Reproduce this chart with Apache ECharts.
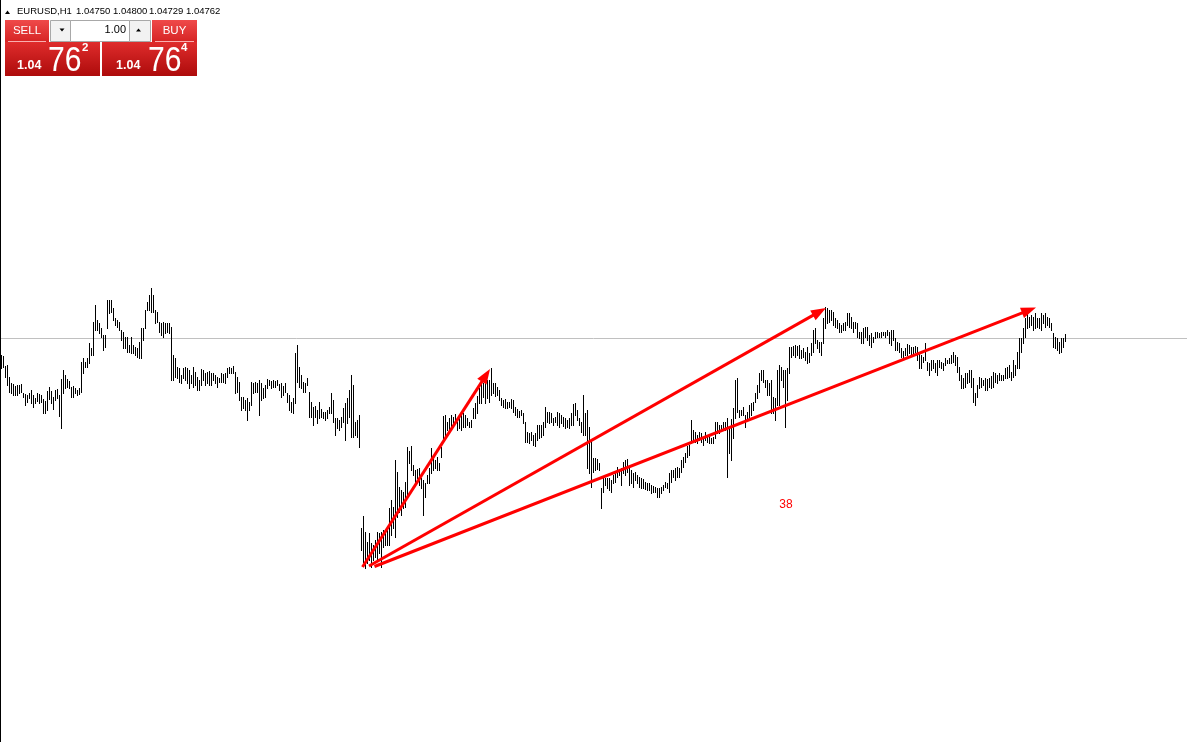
<!DOCTYPE html>
<html><head><meta charset="utf-8">
<script src="https://cdn.jsdelivr.net/npm/echarts@6/dist/echarts.min.js"></script>
<style>html,body{margin:0;padding:0;background:#fff;overflow:hidden}#chart{width:1187px;height:742px}</style>
</head><body><div id="chart"></div>
<script>
// ---- data (prices in pips: value/10000 = price) ----
const symbolName = 'EURUSD,H1';
const lastOHLC = ['1.04750', '1.04800', '1.04729', '1.04762'];
const bidPrice = 1.04762;
const lotSize = '1.00';
const bidParts = ['1.04', '76', '2'];
const askParts = ['1.04', '76', '4'];

const highsPips = [
10459,10458,10448,10449,10437,10431,10430,10428,10429,10429,
10430,10421,10420,10419,10421,10424,10419,10416,10421,10420,
10419,10415,10413,10423,10427,10423,10417,10424,10425,10419,
10435,10444,10439,10435,10433,10427,10428,10426,10424,10426,
10452,10456,10452,10456,10471,10466,10492,10509,10494,10491,
10486,10479,10479,10514,10514,10514,10506,10496,10494,10492,
10484,10482,10477,10477,10469,10477,10469,10467,10466,10472,
10486,10486,10504,10512,10519,10526,10519,10504,10502,10492,
10491,10492,10491,10491,10491,10487,10459,10456,10447,10446,
10439,10446,10447,10446,10444,10439,10447,10442,10437,10434,
10445,10444,10441,10442,10443,10441,10441,10439,10437,10436,
10441,10440,10441,10446,10447,10446,10448,10442,10437,10432,
10417,10417,10414,10416,10412,10432,10431,10432,10431,10434,
10431,10426,10429,10435,10434,10433,10434,10433,10434,10430,
10431,10428,10431,10421,10419,10412,10416,10461,10469,10447,
10439,10432,10431,10436,10422,10412,10407,10408,10404,10412,
10405,10402,10402,10404,10407,10421,10414,10396,10396,10394,
10397,10406,10411,10416,10424,10439,10429,10392,10394,10399,
10286,10298,10282,10272,10281,10271,10269,10274,10282,10281,
10282,10284,10282,10287,10306,10314,10307,10354,10342,10327,
10324,10322,10332,10367,10363,10368,10349,10344,10345,10346,
10336,10334,10331,10339,10346,10366,10356,10354,10357,10351,
10367,10398,10399,10392,10396,10399,10397,10400,10392,10396,
10399,10401,10399,10396,10392,10394,10406,10411,10418,10426,
10434,10431,10433,10434,10434,10446,10431,10431,10427,10424,
10416,10414,10415,10412,10412,10415,10414,10407,10405,10403,
10404,10401,10392,10382,10381,10382,10379,10381,10389,10389,
10389,10392,10407,10402,10402,10401,10396,10397,10402,10401,
10399,10397,10396,10394,10396,10401,10410,10411,10404,10396,
10392,10419,10401,10404,10387,10374,10356,10356,10355,10351,
10326,10337,10336,10336,10336,10334,10339,10342,10347,10344,
10346,10352,10354,10355,10346,10344,10341,10342,10339,10337,
10336,10335,10332,10331,10331,10329,10328,10327,10326,10326,
10327,10329,10332,10331,10341,10344,10344,10346,10347,10346,
10354,10357,10361,10368,10369,10394,10384,10382,10379,10382,
10381,10377,10382,10379,10378,10376,10377,10392,10392,10389,
10389,10392,10392,10396,10387,10395,10406,10434,10436,10404,
10404,10407,10399,10402,10409,10411,10412,10421,10429,10441,
10444,10444,10434,10434,10431,10434,10417,10416,10444,10449,
10447,10444,10444,10446,10467,10467,10468,10469,10468,10469,
10464,10466,10462,10467,10461,10471,10484,10486,10474,10472,
10472,10496,10507,10506,10504,10504,10502,10496,10494,10491,
10489,10491,10492,10501,10501,10497,10492,10492,10491,10482,
10482,10486,10487,10487,10479,10481,10477,10482,10482,10481,
10482,10482,10482,10484,10482,10484,10484,10476,10472,10471,
10466,10463,10466,10470,10469,10467,10467,10468,10467,10462,
10459,10457,10471,10452,10451,10454,10454,10451,10454,10454,
10452,10451,10456,10454,10456,10459,10462,10459,10457,10447,
10439,10436,10441,10441,10444,10444,10436,10421,10429,10437,
10436,10434,10436,10435,10436,10438,10442,10441,10439,10441,
10439,10439,10446,10447,10449,10442,10454,10449,10462,10476,
10476,10486,10496,10501,10497,10499,10497,10501,10496,10496,
10501,10499,10501,10497,10496,10491,10481,10477,10476,10472,
10476,10476,10480
];
const lowsPips = [
10446,10447,10437,10429,10422,10421,10419,10419,10419,10421,
10422,10417,10409,10412,10416,10411,10407,10411,10413,10411,
10412,10401,10401,10404,10415,10411,10405,10414,10416,10398,
10386,10421,10426,10427,10426,10417,10417,10421,10419,10420,
10422,10441,10447,10447,10451,10459,10459,10484,10484,10481,
10477,10464,10467,10486,10501,10502,10494,10489,10487,10484,
10474,10466,10466,10462,10462,10461,10461,10459,10457,10456,
10456,10474,10486,10504,10504,10502,10502,10491,10492,10482,
10479,10477,10481,10482,10481,10434,10434,10437,10436,10432,
10431,10436,10434,10431,10426,10431,10427,10429,10424,10424,
10429,10434,10429,10431,10429,10429,10434,10431,10427,10432,
10432,10432,10431,10437,10441,10441,10441,10421,10422,10414,
10404,10406,10404,10394,10404,10409,10421,10422,10422,10399,
10414,10416,10417,10426,10429,10426,10427,10427,10429,10424,
10417,10419,10422,10412,10404,10402,10401,10411,10432,10427,
10426,10422,10422,10429,10397,10397,10389,10397,10391,10396,
10397,10396,10394,10396,10401,10401,10392,10379,10386,10384,
10387,10392,10374,10391,10397,10377,10377,10379,10377,10367,
10264,10252,10246,10251,10254,10247,10254,10257,10254,10261,
10247,10267,10269,10269,10269,10279,10286,10277,10297,10302,
10299,10306,10307,10317,10351,10344,10339,10331,10336,10329,
10326,10299,10317,10331,10331,10341,10344,10346,10344,10344,
10357,10372,10379,10384,10382,10388,10387,10391,10384,10386,
10384,10387,10387,10389,10387,10387,10396,10396,10401,10411,
10411,10417,10411,10416,10412,10419,10421,10418,10419,10414,
10409,10407,10406,10406,10407,10406,10402,10399,10397,10397,
10399,10391,10372,10372,10371,10374,10369,10368,10374,10376,
10377,10379,10387,10392,10391,10392,10389,10392,10389,10387,
10391,10388,10386,10387,10386,10389,10389,10399,10394,10389,
10382,10379,10379,10346,10341,10327,10342,10344,10345,10344,
10306,10322,10329,10326,10324,10322,10331,10332,10337,10339,
10329,10341,10339,10342,10329,10331,10327,10334,10331,10327,
10326,10326,10325,10324,10324,10321,10322,10322,10317,10317,
10321,10324,10327,10326,10322,10332,10337,10334,10337,10337,
10342,10347,10352,10357,10359,10371,10372,10372,10371,10374,
10372,10369,10374,10372,10371,10371,10371,10376,10381,10381,
10384,10384,10384,10337,10361,10354,10376,10396,10402,10397,
10399,10399,10387,10394,10396,10399,10404,10412,10416,10422,
10434,10432,10427,10419,10419,10401,10401,10394,10409,10409,
10434,10427,10387,10414,10441,10457,10459,10457,10459,10456,
10456,10457,10454,10451,10452,10459,10462,10471,10466,10462,
10459,10471,10486,10491,10492,10494,10489,10487,10486,10482,
10482,10484,10484,10489,10487,10486,10482,10486,10477,10476,
10471,10471,10477,10474,10469,10467,10472,10476,10477,10477,
10477,10479,10477,10479,10471,10469,10474,10464,10464,10462,
10457,10456,10459,10459,10461,10459,10461,10462,10454,10446,
10446,10452,10454,10444,10439,10444,10446,10442,10439,10447,
10446,10444,10449,10451,10451,10451,10452,10449,10442,10434,
10426,10426,10427,10431,10432,10427,10412,10409,10417,10426,
10427,10429,10424,10424,10427,10426,10427,10432,10431,10434,
10434,10434,10436,10436,10437,10434,10437,10439,10446,10446,
10462,10471,10477,10486,10487,10489,10484,10486,10487,10486,
10484,10491,10487,10489,10487,10484,10467,10466,10464,10461,
10462,10467,10473
];
// trend arrows: [startBar, startPrice, endBar (tip), endPrice (tip)]
const trendArrows = [
  [180.5, 1.02477, 244.25, 1.04457],
  [183.75, 1.02487, 412.25, 1.05067],
  [186.5, 1.02482, 517.25, 1.05072]
];
// text objects on the chart: [bar, price, text]
const chartTexts = [[392.25, 1.03097, '38']];

// ---- chart ----
const chart = echarts.init(document.getElementById('chart'), null, {renderer: 'canvas'});
const barData = highsPips.map((h, i) => [i, h / 10000, lowsPips[i] / 10000]);

function renderBar(params, api) {
  const top = api.coord([api.value(0), api.value(1)]);
  const bot = api.coord([api.value(0), api.value(2)]);
  const x = Math.floor(top[0]) + 0.5;
  return {type: 'line', silent: true,
    shape: {x1: x, y1: Math.floor(top[1]), x2: x, y2: Math.floor(bot[1]) + 1},
    style: {stroke: '#000000', lineWidth: 1}};
}
function renderPriceLine(params, api) {
  const cs = params.coordSys;
  const p = api.coord([0, api.value(0)]);
  const y = Math.floor(p[1]) + 0.5;
  return {type: 'line', silent: true,
    shape: {x1: cs.x, y1: y, x2: cs.x + cs.width, y2: y},
    style: {stroke: '#c0c0c0', lineWidth: 1}};
}
function renderArrow(params, api) {
  const p0 = api.coord([api.value(0), api.value(1)]);
  const p1 = api.coord([api.value(2), api.value(3)]);
  const dx = p1[0] - p0[0], dy = p1[1] - p0[1], len = Math.hypot(dx, dy);
  const ux = dx / len, uy = dy / len, nx = -uy, ny = ux;
  const L = 15, W = 5.5;
  const bx = p1[0] - ux * L, by = p1[1] - uy * L;
  return {type: 'group', silent: true, children: [
    {type: 'line', shape: {x1: p0[0], y1: p0[1], x2: bx + ux * 3, y2: by + uy * 3},
      style: {stroke: '#ff0000', lineWidth: 3}},
    {type: 'polygon', shape: {points: [[p1[0], p1[1]], [bx + nx * W, by + ny * W], [bx - nx * W, by - ny * W]]},
      style: {fill: '#ff0000'}}
  ]};
}
function renderText(params, api) {
  const p = api.coord([api.value(0), api.value(1)]);
  return {type: 'text', silent: true, x: p[0], y: p[1],
    style: {text: chartTexts[params.dataIndex][2], fill: '#ff0000', font: '12px "Liberation Sans"',
      align: 'center', verticalAlign: 'middle'}};
}

const F = '"Liberation Sans", Arial, sans-serif';
const btnFill = {type: 'linear', x: 0, y: 0, x2: 0, y2: 1, colorStops: [{offset: 0, color: '#ef4a4a'}, {offset: 1, color: '#d62424'}]};
const boxFill = {type: 'linear', x: 0, y: 0, x2: 0, y2: 1, colorStops: [{offset: 0, color: '#df2c2c'}, {offset: 1, color: '#ad0b0b'}]};
const priceX = [76, 113, 149, 186];

const graphics = [
  {type: 'rect', shape: {x: 0, y: 0, width: 1, height: 742}, style: {fill: '#000'}, z: 100},
  {type: 'polygon', shape: {points: [[5, 14], [10, 14], [7.5, 10.5]]}, style: {fill: '#000'}, z: 100},
  {type: 'text', x: 17, y: 11, style: {text: symbolName, font: '9.5px ' + F, fill: '#000', verticalAlign: 'middle'}, z: 100}
].concat(lastOHLC.map((t, k) => ({type: 'text', x: priceX[k], y: 11,
  style: {text: t, font: '9.5px ' + F, fill: '#000', verticalAlign: 'middle'}, z: 100})))
.concat([
  // SELL button
  {type: 'rect', shape: {x: 5, y: 20, width: 44, height: 22}, style: {fill: btnFill}, z: 100},
  {type: 'text', x: 27, y: 30.5, style: {text: 'SELL', font: '11.5px ' + F, fill: '#fff', align: 'center', verticalAlign: 'middle'}, z: 101},
  // BUY button
  {type: 'rect', shape: {x: 152, y: 20, width: 45, height: 22}, style: {fill: btnFill}, z: 100},
  {type: 'text', x: 174.5, y: 30.5, style: {text: 'BUY', font: '11.5px ' + F, fill: '#fff', align: 'center', verticalAlign: 'middle'}, z: 101},
  // lot widget
  {type: 'rect', shape: {x: 50.5, y: 20.5, width: 100, height: 21}, style: {fill: '#f2f2f2', stroke: '#a8a8a8', lineWidth: 1}, z: 100},
  {type: 'rect', shape: {x: 70.5, y: 20.5, width: 59, height: 21}, style: {fill: '#ffffff', stroke: '#a8a8a8', lineWidth: 1}, z: 101},
  {type: 'polygon', shape: {points: [[59.5, 28.5], [64.5, 28.5], [62, 31.5]]}, style: {fill: '#000'}, z: 102},
  {type: 'polygon', shape: {points: [[136, 31.5], [141, 31.5], [138.5, 28.5]]}, style: {fill: '#000'}, z: 102},
  {type: 'text', x: 126, y: 30, style: {text: lotSize, font: '11px ' + F, fill: '#000', align: 'right', verticalAlign: 'middle'}, z: 102},
  // price boxes
  {type: 'rect', shape: {x: 5, y: 42, width: 95, height: 34}, style: {fill: boxFill}, z: 100},
  {type: 'rect', shape: {x: 102, y: 42, width: 95, height: 34}, style: {fill: boxFill}, z: 100},
  {type: 'line', shape: {x1: 8, y1: 41.5, x2: 46, y2: 41.5}, style: {stroke: 'rgba(255,200,200,0.85)', lineWidth: 1}, z: 101},
  {type: 'line', shape: {x1: 155, y1: 41.5, x2: 194, y2: 41.5}, style: {stroke: 'rgba(255,200,200,0.85)', lineWidth: 1}, z: 101},
  {type: 'text', x: 17, y: 72.5, style: {text: bidParts[0], font: 'bold 12.5px ' + F, fill: '#fff', verticalAlign: 'bottom'}, z: 101},
  {type: 'text', x: 48, y: 79, scaleX: 0.86, style: {text: bidParts[1], font: '35px ' + F, fill: '#fff', verticalAlign: 'bottom'}, z: 101},
  {type: 'text', x: 82, y: 42, style: {text: bidParts[2], font: 'bold 11.5px ' + F, fill: '#fff', verticalAlign: 'top'}, z: 101},
  {type: 'text', x: 116, y: 72.5, style: {text: askParts[0], font: 'bold 12.5px ' + F, fill: '#fff', verticalAlign: 'bottom'}, z: 101},
  {type: 'text', x: 148, y: 79, scaleX: 0.86, style: {text: askParts[1], font: '35px ' + F, fill: '#fff', verticalAlign: 'bottom'}, z: 101},
  {type: 'text', x: 181, y: 42, style: {text: askParts[2], font: 'bold 11.5px ' + F, fill: '#fff', verticalAlign: 'top'}, z: 101}
]);

chart.setOption({
  animation: false,
  backgroundColor: '#ffffff',
  grid: {left: 0, right: 0, top: 0, bottom: 0, containLabel: false},
  xAxis: {type: 'value', min: -0.75, max: 592.75, show: false, splitLine: {show: false}},
  yAxis: {type: 'value', min: 1.00727, max: 1.08147, show: false, splitLine: {show: false}},
  series: [
    {type: 'custom', name: 'bidLine', renderItem: renderPriceLine, data: [[bidPrice]], encode: {y: 0}, clip: false, z: 1},
    {type: 'custom', name: 'bars', renderItem: renderBar, data: barData, encode: {x: 0, y: [1, 2]}, clip: false, z: 2},
    {type: 'custom', name: 'arrows', renderItem: renderArrow, data: trendArrows, encode: {x: [0, 2], y: [1, 3]}, clip: false, z: 5},
    {type: 'custom', name: 'texts', renderItem: renderText, data: chartTexts.map(t => [t[0], t[1]]), encode: {x: 0, y: 1}, clip: false, z: 6}
  ],
  graphic: graphics
});
</script></body></html>
